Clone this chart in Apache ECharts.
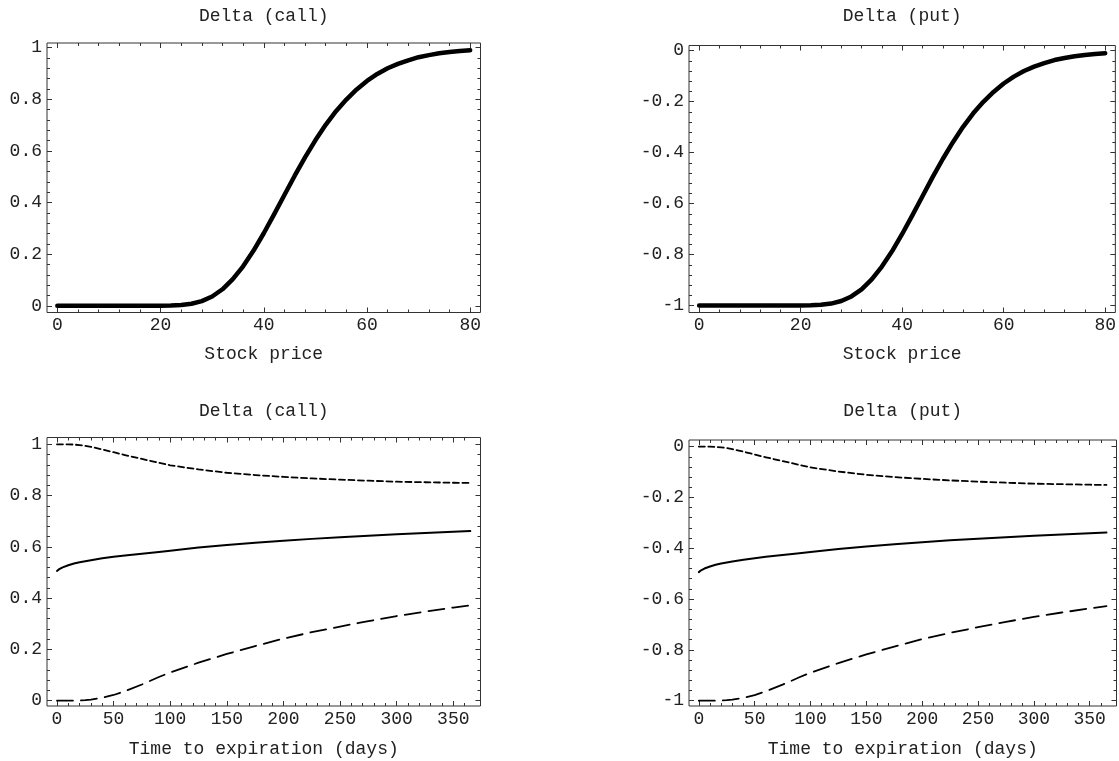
<!DOCTYPE html>
<html><head><meta charset="utf-8">
<script src="https://cdn.jsdelivr.net/npm/echarts@6/dist/echarts.min.js"></script>
<style>html,body{margin:0;padding:0;background:#fff}#c{width:1119px;height:761px}</style>
</head><body><div id="c"></div>
<script>
// ---- data ----
const stockPrice = [0,2,4,6,8,10,12,14,16,18,20,22,24,26,28,30,32,34,36,38,40,42,44,46,48,50,52,54,56,58,60,62,64,66,68,70,72,74,76,78,80];
const callDeltaByPrice = [0,0,0,0,0,0,0,0,0,0,0.0002,0.001,0.003,0.008,0.018,0.036,0.064,0.103,0.153,0.213,0.281,0.354,0.429,0.504,0.575,0.641,0.701,0.754,0.799,0.838,0.871,0.898,0.920,0.937,0.951,0.963,0.971,0.978,0.983,0.987,0.990];
const putDeltaByPrice = [-1,-1,-1,-1,-1,-1,-1,-1,-1,-1,-0.9998,-0.999,-0.997,-0.992,-0.982,-0.964,-0.936,-0.897,-0.847,-0.787,-0.719,-0.646,-0.571,-0.496,-0.425,-0.359,-0.299,-0.246,-0.201,-0.162,-0.129,-0.102,-0.080,-0.063,-0.049,-0.037,-0.029,-0.022,-0.017,-0.013,-0.010];

const days = [0,2,5,10,15,20,25,30,40,50,60,75,90,100,125,150,175,200,225,250,275,300,325,350,365];
const callITM = [1,1,1,1,0.999,0.997,0.994,0.99,0.98,0.969,0.958,0.943,0.928,0.918,0.902,0.889,0.880,0.873,0.867,0.862,0.858,0.854,0.852,0.850,0.849];
const callATM = [0.506,0.513,0.52,0.528,0.535,0.54,0.544,0.548,0.555,0.561,0.566,0.573,0.58,0.585,0.597,0.607,0.616,0.624,0.631,0.637,0.643,0.649,0.654,0.659,0.662];
const callOTM = [0,0,0,0,0,0.0005,0.002,0.004,0.011,0.022,0.037,0.063,0.092,0.11,0.148,0.182,0.213,0.242,0.267,0.289,0.31,0.33,0.347,0.363,0.372];
const putITM = [0,0,0,0,-0.001,-0.003,-0.006,-0.01,-0.02,-0.031,-0.042,-0.057,-0.072,-0.082,-0.098,-0.111,-0.12,-0.127,-0.133,-0.138,-0.142,-0.146,-0.148,-0.15,-0.151];
const putATM = [-0.494,-0.487,-0.48,-0.472,-0.465,-0.46,-0.456,-0.452,-0.445,-0.439,-0.434,-0.427,-0.42,-0.415,-0.403,-0.393,-0.384,-0.376,-0.369,-0.363,-0.357,-0.351,-0.346,-0.341,-0.338];
const putOTM = [-1,-1,-1,-1,-1,-0.9995,-0.998,-0.996,-0.989,-0.978,-0.963,-0.937,-0.908,-0.89,-0.852,-0.818,-0.787,-0.758,-0.733,-0.711,-0.69,-0.67,-0.653,-0.637,-0.628];

// ---- tick values ----
const priceTicks = [0,20,40,60,80];
const priceMinor = [4,8,12,16,24,28,32,36,44,48,52,56,64,68,72,76];
const dayTicks = [0,50,100,150,200,250,300,350];
const dayMinor = [10,20,30,40,60,70,80,90,110,120,130,140,160,170,180,190,210,220,230,240,260,270,280,290,310,320,330,340,360];
const callTicks = [0,0.2,0.4,0.6,0.8,1];
const callMinor = [0.04,0.08,0.12,0.16,0.24,0.28,0.32,0.36,0.44,0.48,0.52,0.56,0.64,0.68,0.72,0.76,0.84,0.88,0.92,0.96];
const putTicks = [-1,-0.8,-0.6,-0.4,-0.2,0];
const putMinor = [-0.96,-0.92,-0.88,-0.84,-0.76,-0.72,-0.68,-0.64,-0.56,-0.52,-0.48,-0.44,-0.36,-0.32,-0.28,-0.24,-0.16,-0.12,-0.08,-0.04];

const titles = ['Delta (call)','Delta (put)','Delta (call)','Delta (put)'];
const xNames = ['Stock price','Stock price','Time to expiration (days)','Time to expiration (days)'];

// ---- layout ----
const FONT = 'Liberation Mono';
const FS = 18;
const TXT = '#222';
const LINE = '#333';
const panels = [
  {grid:{left:47,top:43,width:433.5,height:269.5}, xr:[-2,82], yr:[-0.026,1.018], xt:priceTicks, xm:priceMinor, yt:callTicks, ym:callMinor, tGap:18, nGap:33,
   series:[{x:stockPrice,y:callDeltaByPrice,w:4.5,dash:null}]},
  {grid:{left:689,top:45.5,width:428,height:267}, xr:[-2,82], yr:[-1.027,0.02], xt:priceTicks, xm:priceMinor, yt:putTicks, ym:putMinor, tGap:20.5, nGap:33,
   series:[{x:stockPrice,y:putDeltaByPrice,w:4.5,dash:null}]},
  {grid:{left:47,top:437.5,width:433.5,height:268.5}, xr:[-8.8,374], yr:[-0.021,1.0265], xt:dayTicks, xm:dayMinor, yt:callTicks, ym:callMinor, tGap:17.5, nGap:34,
   series:[{x:days,y:callITM,w:1.8,dash:[6,3.5]},{x:days,y:callATM,w:2,dash:null},{x:days,y:callOTM,w:1.8,dash:[16,8]}]},
  {grid:{left:689,top:440,width:427.5,height:266}, xr:[-8.8,374], yr:[-1.021,0.026], xt:dayTicks, xm:dayMinor, yt:putTicks, ym:putMinor, tGap:20, nGap:34,
   series:[{x:days,y:putITM,w:1.8,dash:[6,3.5]},{x:days,y:putATM,w:2,dash:null},{x:days,y:putOTM,w:1.8,dash:[16,8]}]}
];

const option = {animation:false, backgroundColor:'#fff', textStyle:{fontFamily:FONT}, grid:[], xAxis:[], yAxis:[], series:[]};

function tickAxis(extra, vals, len, showLabel) {
  return Object.assign({
    type:'value', axisLine:{show:false, onZero:false}, splitLine:{show:false},
    axisTick:{show:true, inside:true, length:len, customValues:vals, lineStyle:{color:LINE, width:1}},
    axisLabel:{show:showLabel, customValues:vals, fontFamily:FONT, fontSize:FS, color:TXT},
  }, extra);
}

panels.forEach((p, gi) => {
  option.grid.push(Object.assign({show:true, borderColor:LINE, borderWidth:1, backgroundColor:'transparent'}, p.grid));
  const xBase = {gridIndex:gi, min:p.xr[0], max:p.xr[1]};
  const yBase = {gridIndex:gi, min:p.yr[0], max:p.yr[1]};
  const xi = option.xAxis.length, yi = option.yAxis.length;
  const xMain = tickAxis(Object.assign({position:'bottom', name:xNames[gi], nameLocation:'middle', nameGap:p.nGap,
      nameTextStyle:{fontFamily:FONT, fontSize:FS, color:TXT}}, xBase), p.xt, 5, true);
  xMain.axisLabel.margin = 4;
  option.xAxis.push(xMain);
  option.xAxis.push(tickAxis(Object.assign({position:'bottom'}, xBase), p.xm, 3, false));
  option.xAxis.push(tickAxis(Object.assign({position:'top', name:titles[gi], nameLocation:'middle', nameGap:p.tGap,
      nameTextStyle:{fontFamily:FONT, fontSize:FS, color:TXT}}, xBase), p.xt, 5, false));
  option.xAxis.push(tickAxis(Object.assign({position:'top'}, xBase), p.xm, 3, false));
  const yMain = tickAxis(Object.assign({position:'left'}, yBase), p.yt, 5, true);
  yMain.axisLabel.margin = 5;
  option.yAxis.push(yMain);
  option.yAxis.push(tickAxis(Object.assign({position:'left'}, yBase), p.ym, 3, false));
  option.yAxis.push(tickAxis(Object.assign({position:'right'}, yBase), p.yt, 5, false));
  option.yAxis.push(tickAxis(Object.assign({position:'right'}, yBase), p.ym, 3, false));
  p.series.forEach(s => {
    option.series.push({
      type:'line', xAxisIndex:xi, yAxisIndex:yi, showSymbol:false, smooth:false,
      lineStyle:{color:'#000', width:s.w, type: s.dash ? s.dash : 'solid', cap:'round', join:'round'},
      data: s.x.map((v, i) => [v, s.y[i]])
    });
  });
});

const chart = echarts.init(document.getElementById('c'), null, {renderer:'canvas'});
chart.setOption(option);
</script></body></html>
